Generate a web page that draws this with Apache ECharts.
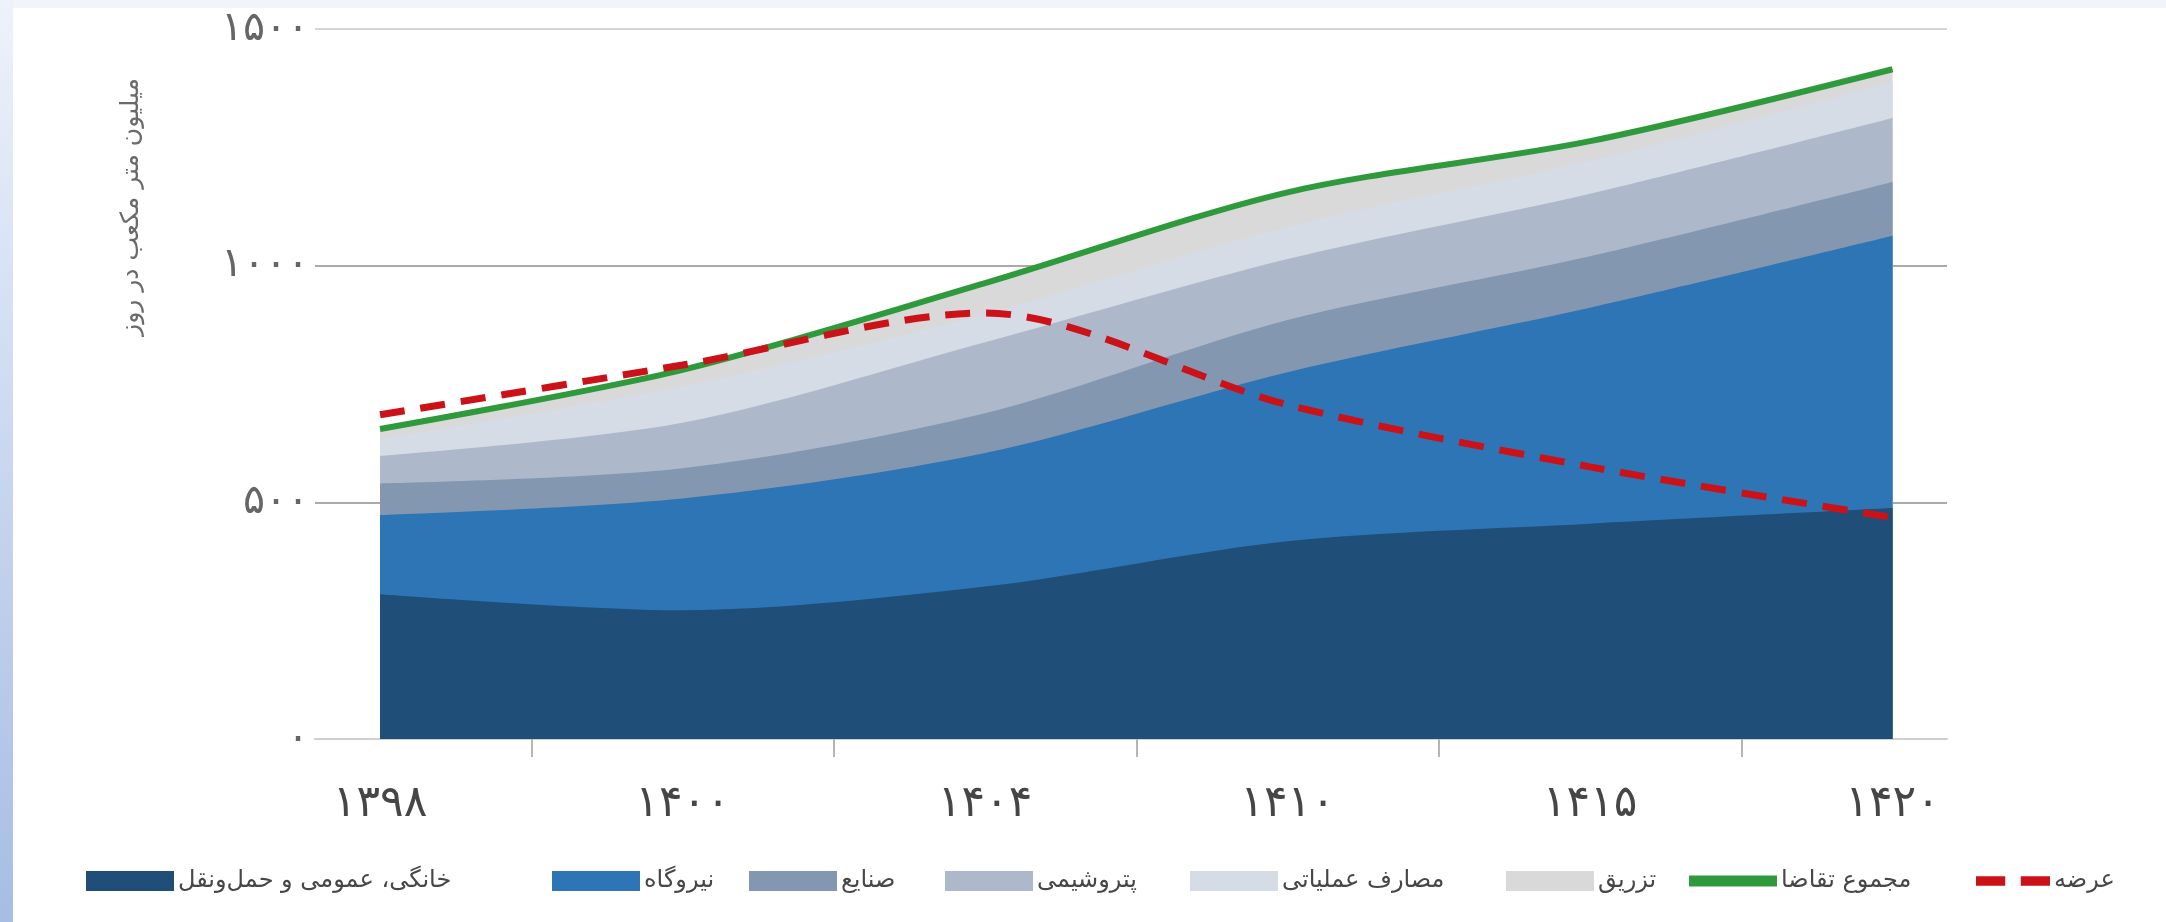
<!DOCTYPE html>
<html>
<head>
<meta charset="utf-8">
<script src="https://cdn.jsdelivr.net/npm/echarts@6/dist/echarts.min.js"></script>
<style>
  html, body { margin: 0; padding: 0; background: #ffffff; }
  #wrap { position: relative; width: 2166px; height: 922px; background: #ffffff; overflow: hidden; }
  #topstrip { position: absolute; left: 0; top: 0; width: 2166px; height: 8px; background: #F2F4F9; }
  #leftstrip { position: absolute; left: 0; top: 0; width: 13px; height: 922px;
    background: linear-gradient(to bottom, #EEF2FA 0%, #C9D7EF 50%, #A6BDE4 100%); }
  #chart { position: absolute; left: 0; top: 0; width: 2166px; height: 922px; }
</style>
</head>
<body>
<div id="wrap">
  <div id="topstrip"></div>
  <div id="leftstrip"></div>
  <div id="chart"></div>
</div>
<script>
// ---- data ----
const years = ['۱۳۹۸', '۱۴۰۰', '۱۴۰۴', '۱۴۱۰', '۱۴۱۵', '۱۴۲۰'];
const yTickLabels = { 0: '۰', 500: '۵۰۰', 1000: '۱۰۰۰', 1500: '۱۵۰۰' };

const household   = [306, 272, 322, 418, 455, 488];
const powerPlant  = [167, 236, 282, 357, 456, 575];
const industry    = [67, 64, 84, 110, 109, 114];
const petrochem   = [58, 96, 150, 129, 132, 135];
const operational = [36, 77, 60, 68, 69, 76];
const injection   = [21, 35, 65, 73, 42, 27];
const totalDemand = [655, 780, 963, 1155, 1263, 1415];
const supply      = [685, 790, 900, 706, 575, 468];

const names = {
  household: 'خانگی، عمومی و حمل‌ونقل',
  power: 'نیروگاه',
  industry: 'صنایع',
  petro: 'پتروشیمی',
  oper: 'مصارف عملیاتی',
  inj: 'تزریق',
  total: 'مجموع تقاضا',
  supply: 'عرضه'
};
const yAxisTitle = 'میلیون متر مکعب در روز';

// ---- build stacked (cumulative) layers from the layer arrays ----
const layers = [
  { name: names.household, vals: household,   color: '#1F4E79' },
  { name: names.power,     vals: powerPlant,  color: '#2E75B6' },
  { name: names.industry,  vals: industry,    color: '#8497B0' },
  { name: names.petro,     vals: petrochem,   color: '#ADB9CA' },
  { name: names.oper,      vals: operational, color: '#D6DCE5' },
  { name: names.inj,       vals: injection,   color: '#D9D9D9' }
];
let running = years.map(() => 0);
layers.forEach(l => {
  running = running.map((r, i) => r + l.vals[i]);
  l.cum = running.slice();
});

const FONT = 'DejaVu Sans';
const toPts = arr => arr.map((v, i) => [i, v]);

// each layer fills down to zero; lower layers are drawn above upper ones
const areaSeries = layers.map((l, k) => ({
  name: l.name,
  type: 'line',
  data: toPts(l.cum),
  smooth: 0.3,
  symbol: 'none',
  lineStyle: { width: 0, color: l.color },
  itemStyle: { color: l.color },
  areaStyle: { color: l.color, opacity: 1 },
  z: 2 + (10 - k) / 100
}));

// legend positions (left edge of each icon) and icons
const legendLeft = [81, 547, 744, 940, 1185, 1501, 1684, 1971];
const legendNames = [names.household, names.power, names.industry, names.petro, names.oper, names.inj, names.total, names.supply];
const legendIcons = ['rect', 'rect', 'rect', 'rect', 'rect', 'rect',
  'path://M0,0h88v11h-88z',
  'path://M0,0h30v10h-30z M46,0h30v10h-30z'];
const legends = legendNames.map((n, i) => ({
  left: legendLeft[i],
  top: 864,
  orient: 'horizontal',
  itemWidth: i === 7 ? 74 : 88,
  itemHeight: 20,
  itemGap: 0,
  textStyle: { fontFamily: FONT, fontSize: 24, color: '#474747', padding: [0, 0, 0, -1] },
  data: [{ name: n, icon: legendIcons[i] }]
}));

const chart = echarts.init(document.getElementById('chart'), null, { renderer: 'canvas' });

const option = {
  animation: false,
  backgroundColor: 'transparent',
  grid: { left: 315, right: 219, top: 29, bottom: 183, containLabel: false },
  xAxis: {
    type: 'value',
    min: -0.215,
    max: 5.18,
    splitLine: { show: false },
    axisLine: { show: true, lineStyle: { color: '#cfcfcf', width: 2 } },
    axisTick: {
      show: true,
      customValues: [0.5, 1.5, 2.5, 3.5, 4.5],
      length: 18,
      lineStyle: { color: '#b5b5b5', width: 2 }
    },
    axisLabel: {
      customValues: [0, 1, 2, 3, 4, 5],
      formatter: v => years[Math.round(v)],
      margin: 44,
      fontFamily: FONT,
      fontSize: 44,
      color: '#464646'
    }
  },
  yAxis: {
    type: 'value',
    min: 0,
    max: 1500,
    interval: 500,
    axisLine: { show: false },
    axisTick: { show: false },
    splitLine: { show: true, lineStyle: { color: ['#cfcfcf', '#aaaaaa', '#aaaaaa', '#d6d6d6'], width: 2 } },
    axisLabel: {
      formatter: v => yTickLabels[v] !== undefined ? yTickLabels[v] : '',
      margin: 6,
      fontFamily: FONT,
      fontSize: 41,
      color: '#666666'
    }
  },
  legend: legends,
  graphic: [
    {
      type: 'text',
      x: 131,
      y: 207,
      rotation: Math.PI / 2,
      style: {
        text: yAxisTitle,
        fontFamily: FONT,
        fontSize: 25,
        fill: '#6a6a6a',
        align: 'center',
        verticalAlign: 'middle'
      }
    }
  ],
  series: areaSeries.concat([
    {
      name: names.total,
      type: 'line',
      data: toPts(totalDemand),
      smooth: 0.3,
      symbol: 'none',
      lineStyle: { width: 6, color: '#2F9A3C' },
      itemStyle: { color: '#2F9A3C' },
      z: 4
    },
    {
      name: names.supply,
      type: 'line',
      data: toPts(supply),
      smooth: 0.3,
      symbol: 'none',
      lineStyle: { width: 7, color: '#CC1219', type: [25, 16] },
      itemStyle: { color: '#CC1219' },
      z: 5
    }
  ])
};

chart.setOption(option);
</script>
</body>
</html>
